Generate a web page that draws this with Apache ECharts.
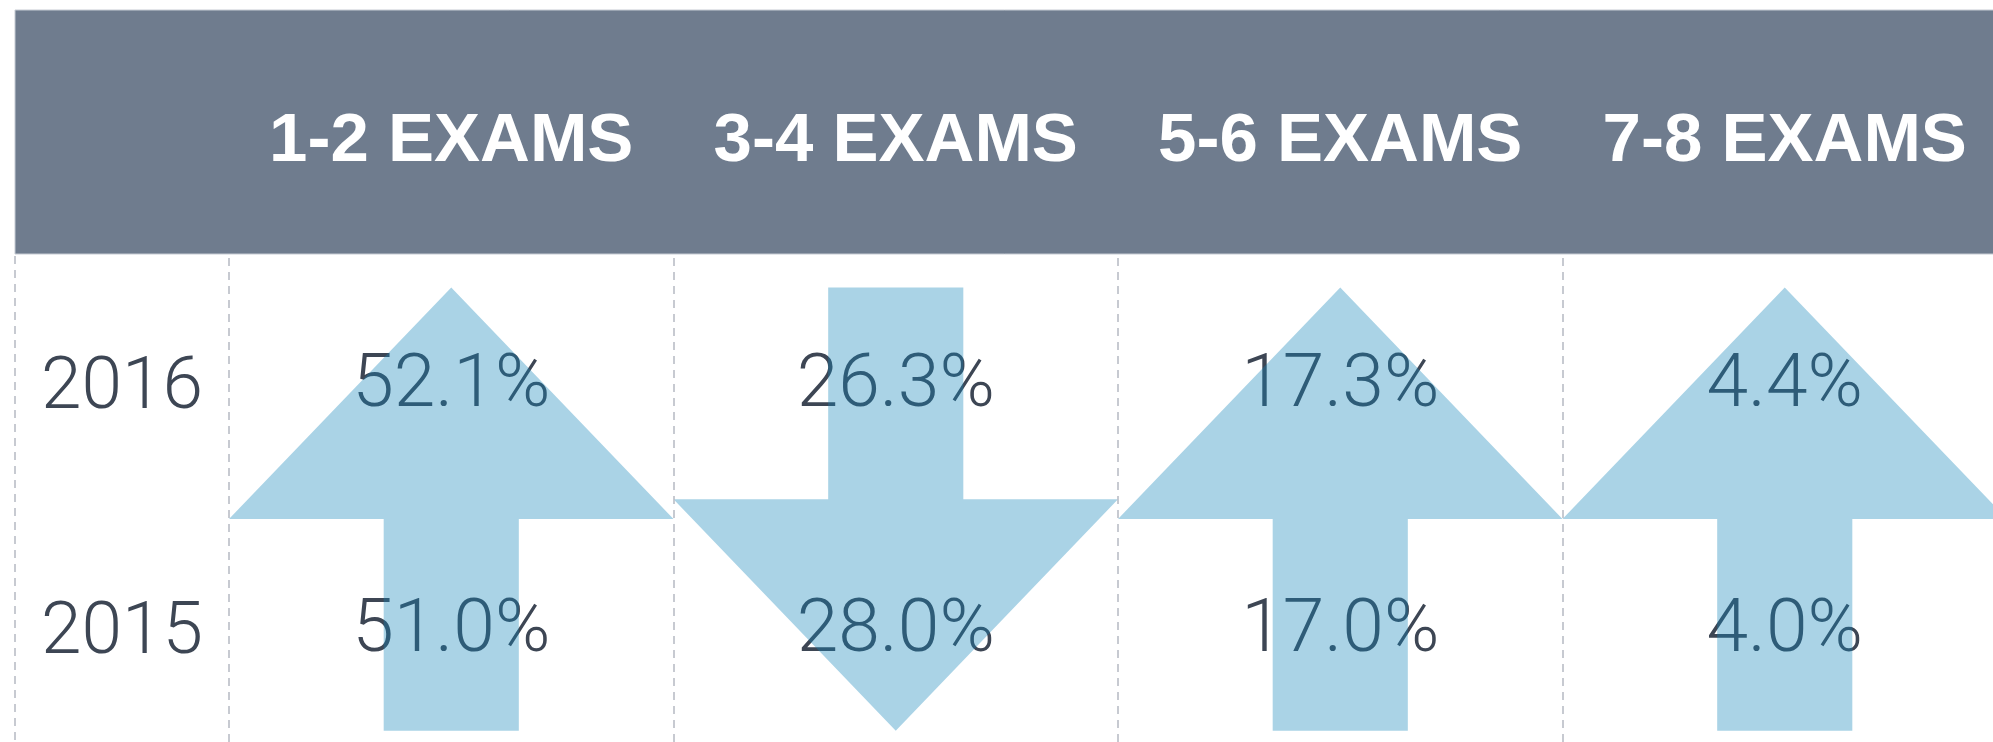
<!DOCTYPE html>
<html>
<head>
<meta charset="utf-8">
<title>Exams 2015 vs 2016</title>
<script src="https://cdn.jsdelivr.net/npm/echarts@6/dist/echarts.min.js"></script>
<style>
  html, body { margin: 0; padding: 0; background: #fff; }
  #main { width: 1993px; height: 742px; }
</style>
</head>
<body>
<div id="main"></div>
<script>
// data
const exams = ['1-2 EXAMS', '3-4 EXAMS', '5-6 EXAMS', '7-8 EXAMS'];
const years = ['2015', '2016'];          // bottom row first
const share2015 = [51.0, 28.0, 17.0, 4.0];
const share2016 = [52.1, 26.3, 17.3, 4.4];

const textColor = '#3d4654';
const headerColor = '#6f7c8e';
const arrowFill = 'rgba(19,133,186,0.36)';
const lightFont = 'Roboto, "Liberation Sans", sans-serif';

let rows = exams.map((e, i) => [i, 0, share2015[i], share2016[i]]);

function renderArrow(params, api) {
  let xi = api.value(0);
  let v15 = api.value(2);
  let v16 = api.value(3);
  let p15 = api.coord([xi, 0]);
  let p16 = api.coord([xi, 1]);
  let band = api.size([1, 1]);
  let bw = band[0], bh = band[1];
  let cx = p15[0];

  // arrow spans from just above the 2016 row to just below the 2015 row
  let top = p16[1] - 0.38 * bh;
  let bottom = p15[1] + 0.43 * bh;
  let headLen = 0.945 * bh;
  let hw = bw / 2;
  let sw = 0.152 * bw;
  let pts;
  if (v16 >= v15) {
    let base = top + headLen;
    pts = [[cx, top], [cx + hw, base], [cx + sw, base], [cx + sw, bottom],
           [cx - sw, bottom], [cx - sw, base], [cx - hw, base]];
  } else {
    let base = bottom - headLen;
    pts = [[cx, bottom], [cx - hw, base], [cx - sw, base], [cx - sw, top],
           [cx + sw, top], [cx + sw, base], [cx + hw, base]];
  }

  let txt = (v, p) => ({
    type: 'text',
    style: {
      x: cx, y: p[1] + 7,
      text: v.toFixed(1) + '%',
      fill: textColor,
      font: '300 75px ' + lightFont,
      align: 'center',
      verticalAlign: 'middle'
    }
  });

  return {
    type: 'group',
    children: [
      txt(v16, p16),
      txt(v15, p15),
      // arrow drawn over the text, semi transparent
      { type: 'polygon', shape: { points: pts }, style: { fill: arrowFill } }
    ]
  };
}

let chart = echarts.init(document.getElementById('main'));
let option = {
  backgroundColor: '#fff',
  animation: false,
  graphic: [
    {
      type: 'rect', z: -10,
      shape: { x: 15, y: 10, width: 1990, height: 244 },
      style: { fill: headerColor, stroke: '#c6cbd3', lineWidth: 1 }
    },
    {
      type: 'line', z: -10,
      shape: { x1: 15, y1: 256, x2: 15, y2: 742 },
      style: { stroke: '#b5b9c2', lineWidth: 1.5, lineDash: [8, 6] }
    }
  ],
  grid: { left: 229, width: 1778, top: 258, height: 490, outerBoundsMode: 'none' },
  xAxis: {
    type: 'category',
    position: 'top',
    data: exams,
    z: 10,
    axisLine: { show: false },
    axisTick: { show: false },
    axisLabel: {
      color: '#fff',
      fontFamily: '"Liberation Sans", Arial, sans-serif',
      fontWeight: 'bold',
      fontSize: 69,
      margin: 116,
      verticalAlign: 'middle',
      interval: 0
    },
    splitLine: {
      show: true,
      interval: 0,
      lineStyle: { color: '#b5b9c2', width: 1.5, type: [8, 6] }
    }
  },
  yAxis: {
    type: 'category',
    data: years,
    axisLine: { show: false },
    axisTick: { show: false },
    splitLine: { show: false },
    axisLabel: {
      margin: 107,
      align: 'center',
      formatter: '{yr|{value}}',
      rich: {
        yr: {
          color: textColor,
          fontFamily: lightFont,
          fontWeight: 300,
          fontSize: 73,
          padding: [19, 0, 0, 0]
        }
      }
    }
  },
  series: [
    {
      type: 'custom',
      coordinateSystem: 'cartesian2d',
      encode: { x: 0, y: 1 },
      data: rows,
      renderItem: renderArrow
    }
  ]
};
chart.setOption(option);
</script>
</body>
</html>
